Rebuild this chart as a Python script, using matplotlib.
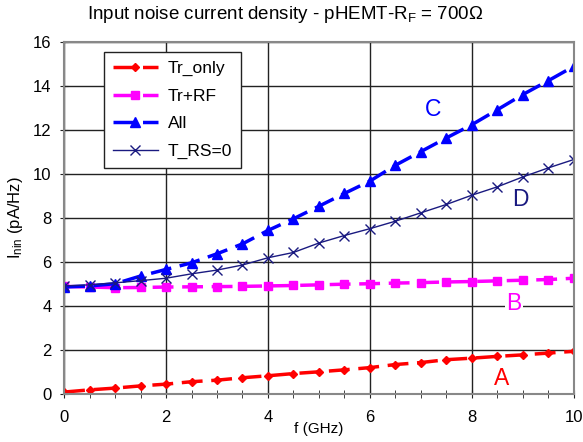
import matplotlib
matplotlib.use("Agg")
import matplotlib.pyplot as plt
import numpy as np

plt.rcParams['font.family'] = ['Liberation Sans', 'DejaVu Sans']
plt.rcParams['mathtext.fontset'] = 'custom'
plt.rcParams['mathtext.rm'] = 'Liberation Sans'
plt.rcParams['mathtext.it'] = 'Liberation Sans'

# ------ data
freq = [0.0, 0.5, 1.0, 1.5, 2.0, 2.5, 3.0, 3.5, 4.0, 4.5, 5.0,
        5.5, 6.0, 6.5, 7.0, 7.5, 8.0, 8.5, 9.0, 9.5, 10.0]
tr_only = [0.08, 0.18, 0.26, 0.36, 0.44, 0.55, 0.62, 0.73, 0.82, 0.92, 1.0,
           1.09, 1.19, 1.33, 1.42, 1.55, 1.62, 1.70, 1.77, 1.85, 1.93]
tr_rf = [4.88, 4.85, 4.82, 4.83, 4.85, 4.86, 4.87, 4.88, 4.90, 4.92, 4.95,
         4.98, 5.00, 5.03, 5.05, 5.08, 5.10, 5.13, 5.16, 5.19, 5.25]
all_ = [4.85, 4.9, 5.0, 5.35, 5.65, 5.95, 6.36, 6.81, 7.42, 7.95, 8.52,
        9.1, 9.66, 10.38, 11.0, 11.62, 12.22, 12.9, 13.59, 14.22, 14.87]
t_rs0 = [4.9, 4.95, 5.04, 5.14, 5.25, 5.45, 5.62, 5.85, 6.18, 6.42, 6.85,
         7.19, 7.5, 7.84, 8.22, 8.6, 9.02, 9.4, 9.85, 10.26, 10.64]

fig = plt.figure(figsize=(5.83, 4.42), dpi=100)
ax = fig.add_axes([0.110, 0.109, 0.874, 0.797])

dash = (0, (6, 2.5))
ax.plot(freq, tr_only, color='#ff0000', lw=2.5, ls=dash, marker='D', ms=4.5, label='Tr_only')
ax.plot(freq, tr_rf, color='#ff00ff', lw=2.5, ls=dash, marker='s', ms=6, label='Tr+RF')
ax.plot(freq, all_, color='#0000ff', lw=2.5, ls=dash, marker='^', ms=6.5, label='All')
ax.plot(freq, t_rs0, color='#1a1a80', lw=1, marker='x', ms=7, mew=1, label='T_RS=0')

ax.set_xlim(0, 10)
ax.set_ylim(0, 16)
ax.set_xticks(np.arange(0, 11, 2))
ax.set_xticks(np.arange(0, 10.01, 0.5), minor=True)
ax.set_yticks(np.arange(0, 17, 2))
ax.grid(True, which='major', color='#222222', lw=1)
ax.tick_params(axis='both', which='major', labelsize=12, direction='inout', length=6, color='#222222')
ax.tick_params(axis='x', which='major', pad=8.5)
ax.tick_params(axis='y', which='major', pad=6)
ax.tick_params(axis='x', which='minor', direction='inout', length=6, color='#222222')
for s in ax.spines.values():
    s.set_color('#888888')
    s.set_linewidth(1.5)

ax.set_xlabel('f (GHz)', fontsize=11, labelpad=-2)
ax.set_ylabel('I$_{nin}$ (pA/Hz)', fontsize=12, labelpad=6)
fig.text(0.49, 0.968, 'Input noise current density - pHEMT-R$_F$ = 700\u03a9',
         fontsize=13.5, ha='center', va='center')

ax.text(7.24, 12.9, 'C', color='#0000ff', fontsize=16.5, ha='center', va='center')
ax.text(8.96, 8.84, 'D', color='#1a1a80', fontsize=16.5, ha='center', va='center')
ax.text(8.83, 4.08, 'B', color='#ff00ff', fontsize=16.5, ha='center', va='center',
        bbox=dict(facecolor='white', edgecolor='none', pad=1))
ax.text(8.59, 0.68, 'A', color='#ff0000', fontsize=16.5, ha='center', va='center')

leg = ax.legend(loc='upper left', bbox_to_anchor=(0.078, 0.970), borderaxespad=0,
                fontsize=12.5, fancybox=False, framealpha=1, edgecolor='#222222',
                handlelength=2.6, handletextpad=0.6, labelspacing=0.72, borderpad=0.5)
leg.get_frame().set_linewidth(1)

fig.savefig('out.png', dpi=100)
